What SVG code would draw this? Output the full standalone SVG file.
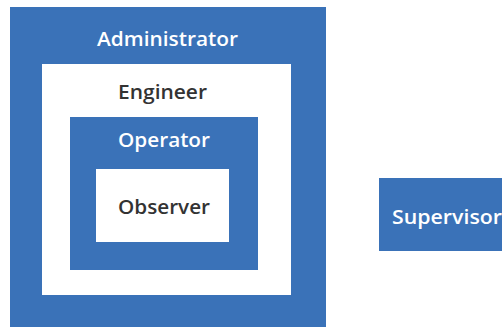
<svg xmlns="http://www.w3.org/2000/svg" width="502" height="329" viewBox="0 0 502 329">
<style>
.blue{fill:#3a72b8}
.white{fill:#ffffff}
text{font-family:"Open Sans","Noto Sans","Liberation Sans",sans-serif;font-size:19px;font-weight:600;text-anchor:middle}
.lw{fill:#ffffff}
.ld{fill:#333333}
</style>
<rect x="0" y="0" width="502" height="329" fill="#ffffff"/>
<g id="administrator">
<rect class="blue" x="10" y="7" width="316" height="320"/>
<text class="lw" x="167.5" y="46" textLength="141" lengthAdjust="spacingAndGlyphs">Administrator</text>
</g>
<g id="engineer">
<rect class="white" x="42" y="64" width="249" height="231"/>
<text class="ld" x="162.5" y="99" textLength="89" lengthAdjust="spacingAndGlyphs">Engineer</text>
</g>
<g id="operator">
<rect class="blue" x="70" y="117" width="188" height="153"/>
<text class="lw" x="164" y="147" textLength="92" lengthAdjust="spacingAndGlyphs">Operator</text>
</g>
<g id="observer">
<rect class="white" x="96" y="169" width="133" height="73"/>
<text class="ld" x="164" y="214" textLength="92" lengthAdjust="spacingAndGlyphs">Observer</text>
</g>
<g id="supervisor">
<rect class="blue" x="379" y="178" width="130" height="73"/>
<text class="lw" x="392" y="224" style="text-anchor:start" textLength="110" lengthAdjust="spacingAndGlyphs">Supervisor</text>
</g>
<g id="connectors"></g>
</svg>
